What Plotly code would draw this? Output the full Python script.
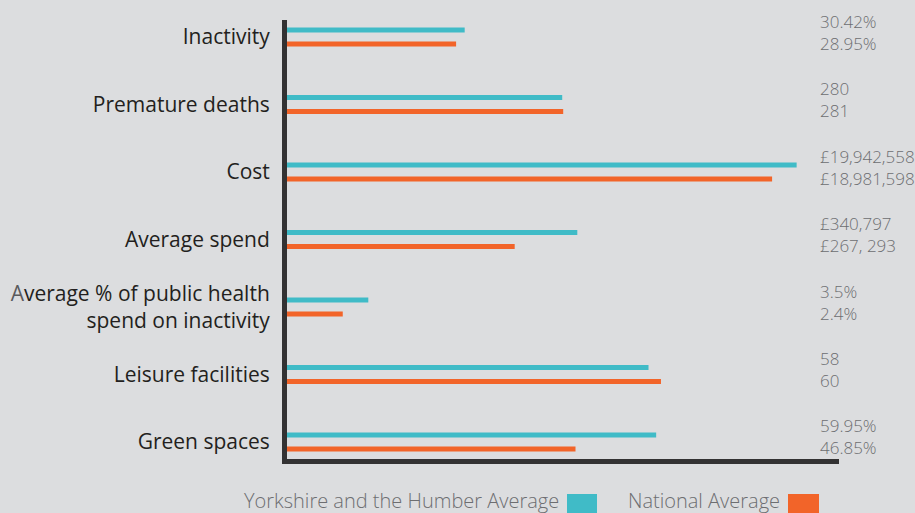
import plotly.graph_objects as go

# Indicators, top to bottom
categories = [
    "Inactivity",
    "Premature deaths",
    "Cost",
    "Average spend",
    "Average % of public health<br>spend on inactivity",
    "Leisure facilities",
    "Green spaces",
]

# Tick label text, with the first letter of the two-line indicator tinted
tick_text = [
    "Inactivity",
    "Premature deaths",
    "Cost",
    "Average spend",
    "<span style='color:#5a5a5c'>A</span>verage % of public health<br>spend on inactivity",
    "Leisure facilities",
    "Green spaces",
]

yorkshire = [30.42, 280, 19942558, 340797, 3.5, 58, 59.95]
national = [28.95, 281, 18981598, 267293, 2.4, 60, 46.85]

yorkshire_text = ["30.42%", "280", "£19,942,558", "£340,797", "3.5%", "58", "59.95%"]
national_text = ["28.95%", "281", "£18,981,598", "£267, 293", "2.4%", "60", "46.85%"]

# Each indicator is in its own unit, so every row is drawn against its own scale:
# a bar reaching 1.0 equals the value given here.
scale_max = [87.5, 520, 20000000, 600000, 22, 82, 83]

yorkshire_share = [v / s for v, s in zip(yorkshire, scale_max)]
national_share = [v / s for v, s in zip(national, scale_max)]

TEAL = "#40bbc7"
ORANGE = "#f26429"
DARK = "#333233"
GREY = "#6d6e71"
BG = "#dcdddf"

fig = go.Figure()
fig.add_trace(go.Bar(
    y=categories, x=yorkshire_share, orientation="h",
    marker=dict(color=TEAL, line_width=0), name="Yorkshire and the Humber Average",
    hoverinfo="skip",
))
fig.add_trace(go.Bar(
    y=categories, x=national_share, orientation="h",
    marker=dict(color=ORANGE, line_width=0), name="National Average",
    hoverinfo="skip",
))

# Stated values to the right of the bars
for cat, yt, nt in zip(categories, yorkshire_text, national_text):
    fig.add_annotation(
        x=1.0, xref="paper", xshift=-21, xanchor="left",
        y=cat, yref="y", yshift=5, yanchor="middle",
        text=f"{yt}<br>{nt}", align="left", showarrow=False,
        font=dict(family="Open Sans", size=17, color=GREY, weight=300),
    )

# Legend row: label followed by its colour swatch
legend_font = dict(family="Open Sans", size=20, color=GREY, weight=300)
W, H = 915, 513
L, R, T, B = 287, 76, 20, 54
pw, ph = W - L - R, H - T - B


def px_x(px):
    return (px - L) / pw


def px_y(py):
    return (H - B - py) / ph


fig.add_annotation(x=px_x(561), y=px_y(500), xref="paper", yref="paper",
                   xanchor="right", yanchor="middle", showarrow=False,
                   text="Yorkshire and the Humber Average", font=legend_font)
fig.add_annotation(x=px_x(782), y=px_y(500), xref="paper", yref="paper",
                   xanchor="right", yanchor="middle", showarrow=False,
                   text="National Average", font=legend_font)
fig.add_shape(type="rect", xref="paper", yref="paper",
              x0=px_x(567), x1=px_x(597), y0=px_y(494), y1=px_y(520),
              fillcolor=TEAL, line_width=0)
fig.add_shape(type="rect", xref="paper", yref="paper",
              x0=px_x(788), x1=px_x(819), y0=px_y(494), y1=px_y(520),
              fillcolor=ORANGE, line_width=0)

fig.update_layout(
    width=W, height=H, autosize=False,
    margin=dict(l=L, r=R, t=T, b=B, pad=0),
    paper_bgcolor=BG, plot_bgcolor=BG,
    barmode="group", bargap=0.585, bargroupgap=0.643,
    showlegend=False,
    font=dict(family="Open Sans"),
)
fig.update_xaxes(
    range=[0, 1.08], showgrid=False, zeroline=False, showticklabels=False,
    showline=True, linewidth=5, linecolor=DARK, ticks="", automargin=False,
)
fig.update_yaxes(
    type="category", range=[6.252, -0.252], showgrid=False, zeroline=False,
    showline=True, linewidth=5, linecolor=DARK, ticks="", automargin=False,
    tickmode="array", tickvals=categories, ticktext=tick_text,
    ticklabelstandoff=8,
    tickfont=dict(family="Open Sans", size=21, color="#231f20"),
)

fig.write_html("out.html")
